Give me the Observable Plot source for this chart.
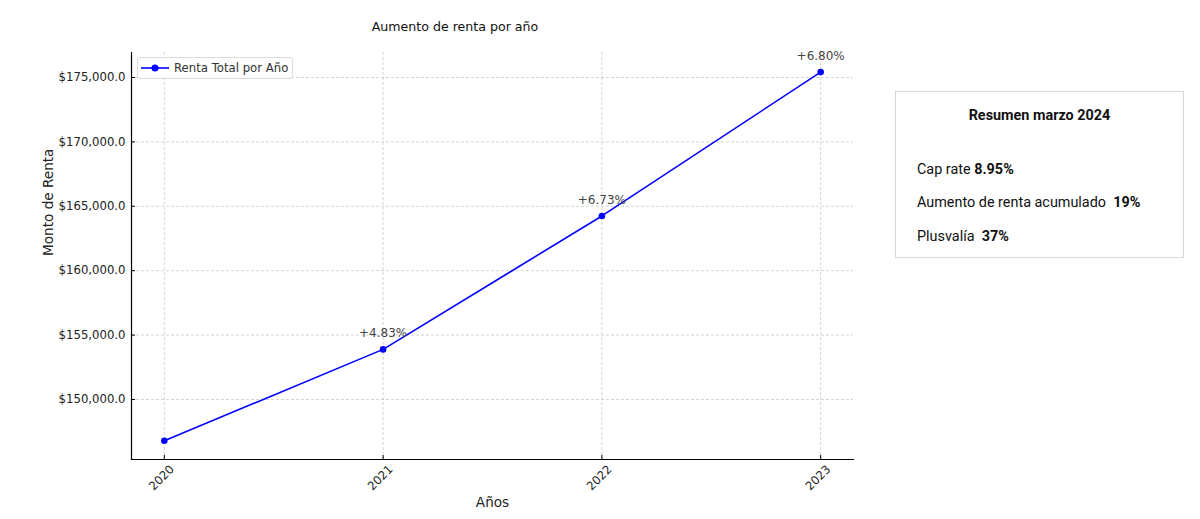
<!DOCTYPE html>
<html>
<head>
<meta charset="utf-8">
<script src="https://cdn.jsdelivr.net/npm/d3@7"></script>
<script src="https://cdn.jsdelivr.net/npm/@observablehq/plot@0.6"></script>
<style>
  html, body { margin: 0; padding: 0; background: #fff; }
  #wrap { position: relative; width: 1200px; height: 519px; overflow: hidden; font-family: "DejaVu Sans", sans-serif; }
  #title { position: absolute; left: 300px; width: 310px; top: 19px; text-align: center; font-size: 12.6px; color: #111; }
  #legend { position: absolute; left: 137px; top: 57px; width: 156px; height: 22px; border: 1px solid #dcdcdc; border-radius: 3px; background: rgba(255,255,255,0.85); font-size: 11.7px; color: #333; display: flex; align-items: center; box-sizing: border-box; white-space: nowrap; }
  #legend svg { margin-left: 3px; margin-right: 5px; flex: none; }
  #box { position: absolute; left: 895px; top: 91px; width: 289px; height: 167px; border: 1px solid #d6d6d6; box-sizing: border-box; font-family: Roboto, sans-serif; font-size: 14.4px; color: #111; }
  #box .h { position: absolute; left: 0; right: 0; top: 15px; text-align: center; font-weight: bold; }
  #box .r { position: absolute; left: 21px; white-space: nowrap; }
  #chart { position: absolute; left: 0; top: 0; }
</style>
</head>
<body>
<div id="wrap">
  <div id="chart"></div>
  <div id="title">Aumento de renta por año</div>
  <div id="legend"><svg width="28" height="10"><line x1="0" y1="5" x2="28" y2="5" stroke="#0000ff" stroke-width="1.6"/><circle cx="14" cy="5" r="3.5" fill="#0000ff"/></svg><span>Renta Total por Año</span></div>
  <div id="box">
    <div class="h">Resumen marzo 2024</div>
    <div class="r" style="top:69px">Cap rate <b>8.95%</b></div>
    <div class="r" style="top:102px">Aumento de renta acumulado&nbsp; <b>19%</b></div>
    <div class="r" style="top:136px">Plusvalía&nbsp; <b>37%</b></div>
  </div>
</div>
<script>
const years = [2020, 2021, 2022, 2023];
const rents = [146800, 153890, 164250, 175420];
const changes = [null, "+4.83%", "+6.73%", "+6.80%"];
const yTicks = [150000, 155000, 160000, 165000, 170000, 175000];

const data = years.map((y, i) => ({year: y, rent: rents[i], change: changes[i]}));

const fmt = d3.format("$,.1f");
const plot = Plot.plot({
  width: 1200,
  height: 519,
  marginLeft: 131,
  marginRight: 347,
  marginTop: 52,
  marginBottom: 60,
  style: {fontFamily: "DejaVu Sans, sans-serif", fontSize: "11.7px", color: "#222", background: "white"},
  x: {domain: [2019.85, 2023.15]},
  y: {domain: [145340, 176940]},
  marks: [
    Plot.gridX(years, {stroke: "#b0b0b0", strokeOpacity: 0.55, strokeDasharray: "3,2"}),
    Plot.gridY(yTicks, {stroke: "#b0b0b0", strokeOpacity: 0.55, strokeDasharray: "3,2"}),
    Plot.frame({anchor: "left", stroke: "#000", strokeWidth: 1.2}),
    Plot.frame({anchor: "bottom", stroke: "#000", strokeWidth: 1.2}),
    Plot.axisY({ticks: yTicks, tickFormat: fmt, tickSize: -4, tickPadding: 10, label: null, stroke: "#000", fill: "#222"}),
    Plot.axisX({ticks: years, tickFormat: () => "", tickSize: -4, label: null, stroke: "#000"}),
    Plot.text(years, {x: d => d, text: d => String(d), frameAnchor: "bottom", dy: 21, rotate: -45, textAnchor: "middle", fill: "#222"}),
    Plot.text(["Años"], {frameAnchor: "bottom", dy: 47, fontSize: 13.6, fill: "#222"}),
    Plot.text(["Monto de Renta"], {frameAnchor: "left", dx: -83, rotate: -90, fontSize: 13.6, fill: "#222"}),
    Plot.line(data, {x: "year", y: "rent", stroke: "#0000ff", strokeWidth: 1.6}),
    Plot.dot(data, {x: "year", y: "rent", r: 3.3, fill: "#0000ff"}),
    Plot.text(data.filter(d => d.change), {x: "year", y: "rent", text: "change", dy: -16, fill: "#444", fontSize: 12})
  ]
});
document.getElementById("chart").appendChild(plot);
</script>
</body>
</html>
